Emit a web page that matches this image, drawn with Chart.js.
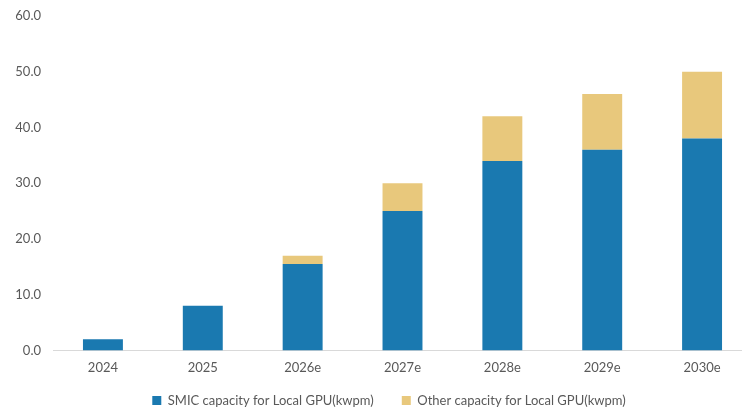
<!DOCTYPE html>
<html>
<head>
<meta charset="utf-8">
<script src="https://cdn.jsdelivr.net/npm/chart.js@4"></script>
<style>
html,body{margin:0;padding:0;background:#fff;overflow:hidden;width:742px;height:412px;}
#wrap{position:relative;width:752px;height:412px;}
</style>
</head>
<body>
<div id="wrap"><canvas id="c" width="752" height="412"></canvas></div>
<script>
const categories = ["2024","2025","2026e","2027e","2028e","2029e","2030e"];
const smicCapacity = [2, 8, 15.5, 25, 34, 36, 38];
const otherCapacity = [0, 0, 1.5, 5, 8, 10, 12];
const seriesNames = ["SMIC capacity for Local GPU(kwpm)", "Other capacity for Local GPU(kwpm)"];
const yTicks = [0, 10, 20, 30, 40, 50, 60];

const textColor = "#595959";
const fontFamily = "Lato, 'Open Sans', sans-serif";

const legendTweak = {
  id: "legendTweak",
  afterInit(chart) {
    const lg = chart.legend;
    if (!lg) return;
    const origFit = lg.fit.bind(lg);
    lg.fit = function () { origFit(); this.height = 26; };
  },
  afterLayout(chart) {
    const lg = chart.legend;
    if (!lg) return;
    lg.left += 13; lg.right += 13;
    lg.top -= 20;
  }
};

new Chart(document.getElementById("c"), {
  type: "bar",
  data: {
    labels: categories,
    datasets: [
      { label: seriesNames[0], data: smicCapacity, backgroundColor: "#1A79B0", barPercentage: 0.4, categoryPercentage: 1 },
      { label: seriesNames[1], data: otherCapacity, backgroundColor: "#E8C87C", barPercentage: 0.4, categoryPercentage: 1 }
    ]
  },
  plugins: [legendTweak],
  options: {
    responsive: false,
    animation: false,
    layout: { padding: { top: 16, left: 0, right: 0, bottom: 0 } },
    plugins: {
      legend: {
        position: "bottom",
        labels: {
          boxWidth: 9, boxHeight: 9, color: textColor,
          font: { family: fontFamily, size: 13 },
          padding: 28
        }
      },
      tooltip: { enabled: false }
    },
    scales: {
      x: {
        stacked: true,
        grid: { display: false, drawTicks: false },
        border: { display: true, color: "#d9d9d9", width: 1 },
        ticks: { color: textColor, font: { family: fontFamily, size: 13 }, padding: 10 }
      },
      y: {
        stacked: true,
        min: 0, max: 60,
        afterBuildTicks: (s) => { s.ticks = yTicks.map(v => ({ value: v })); },
        afterFit: (s) => { s.width = 53; s.paddingTop = 0; s.paddingBottom = 0; },
        grid: { display: false, drawTicks: false },
        border: { display: false },
        ticks: {
          color: textColor, font: { family: fontFamily, size: 13 }, padding: 12,
          callback: (v) => Number(v).toFixed(1)
        }
      }
    }
  }
});
</script>
</body>
</html>
